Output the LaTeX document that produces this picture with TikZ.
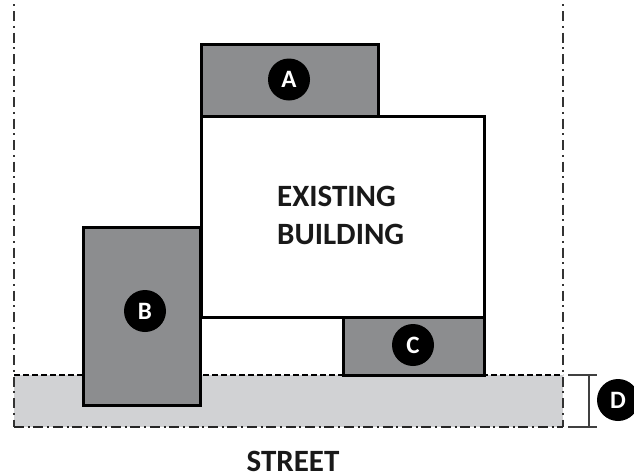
\documentclass[tikz,border=0pt]{standalone}
\usepackage{fontspec}
\setmainfont{Carlito}
\definecolor{addgray}{HTML}{8C8D8F}
\definecolor{streetgray}{HTML}{D1D2D4}
\tikzset{
  x=1pt,y=-1pt,
  addition/.style={draw=black,line width=3pt,fill=addgray,miter limit=10},
  sideline/.style={line width=1.7pt,draw=black!80,dash pattern=on 10pt off 4.75pt on 2pt off 4.75pt,dash phase=10.5pt},
  baseline/.style={line width=1.9pt,draw=black!85,dash pattern=on 10pt off 3.7pt on 2pt off 3.7pt},
  badge/.style={circle,fill=black,text=white,minimum size=42pt,inner sep=0pt,font=\bfseries\fontsize{25}{25}\selectfont},
  label/.style={font=\bfseries\fontsize{31}{38.5}\selectfont,text=black!90,align=left,inner sep=0pt},
  dim/.style={line width=1.4pt,draw=black!75}
}
\begin{document}
\begin{tikzpicture}
\useasboundingbox (0,0) rectangle (634,474);
\fill[streetgray] (14,375) rectangle (563,427);
\draw[sideline] (14,0) -- (14,427);
\draw[sideline] (563,0) -- (563,427);
\draw[baseline] (14,427) -- (563,427);
\draw[line width=2.6pt,dash pattern=on 5.5pt off 3.5pt] (14,375) -- (563,375);
\draw[addition] (83,227) rectangle (200.5,405);
\draw[addition] (201,44) rectangle (378.5,116);
\draw[addition] (343,317) rectangle (484.5,375);
\draw[line width=3pt,fill=white] (201,116) rectangle (484.5,317);
\node[badge] (a) at (289,79.5) {A};
\node[badge] (b) at (145,311) {B};
\node[badge] (c) at (413,345) {C};
\node[badge] (d) at (618,400) {D};
\node[label,anchor=base west] (existing) at (277,244.5) {EXISTING\\[0pt]BUILDING};
\node[label,anchor=base] (street) at (293,471) {STREET};
\coordinate (t1) at (568,375); \coordinate (t2) at (597,375);
\coordinate (b1) at (568,427); \coordinate (b2) at (597,427);
\coordinate (dt) at (589,375); \coordinate (db) at (589,427);
\draw[dim] (t1) -- (t2);
\draw[dim] (b1) -- (b2);
\draw[dim] (dt) -- (db);
\end{tikzpicture}
\end{document}
